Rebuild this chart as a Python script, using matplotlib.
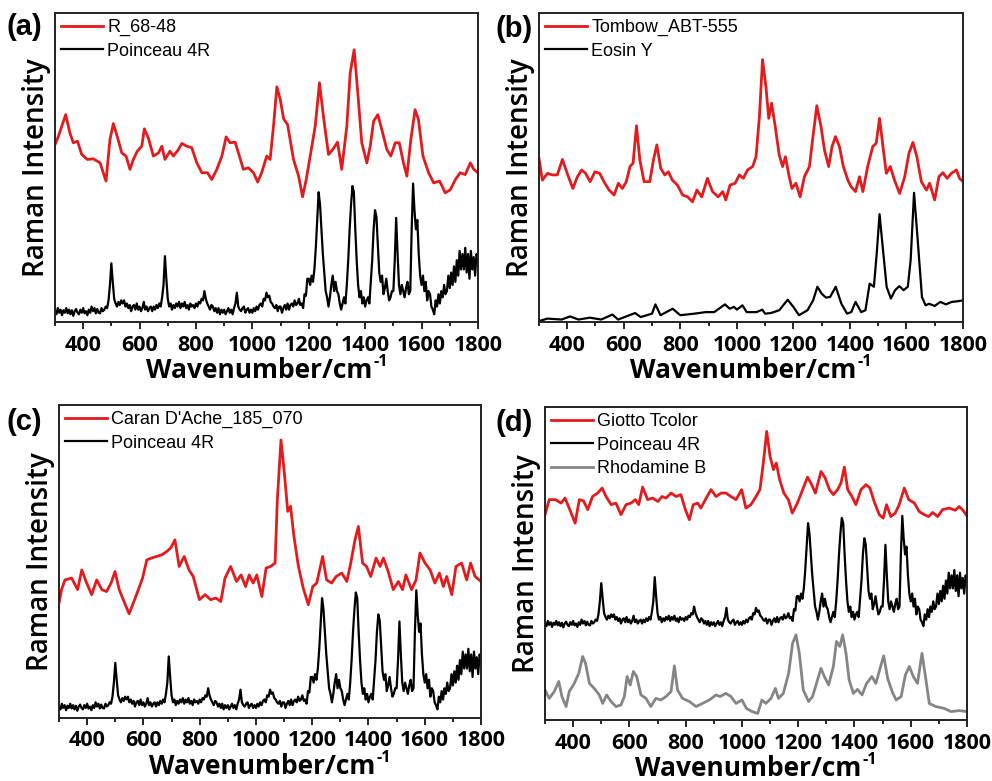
import matplotlib
matplotlib.use("Agg")
import matplotlib.pyplot as plt
from matplotlib.ticker import MultipleLocator

# ---------------------------------------------------------------
# Spectra (arbitrary intensity, 0..1 of panel)
# ---------------------------------------------------------------
# Poinceau 4R reference (shared by panels a, c, d), sampled every 5 cm-1
poinceau_wn = list(range(300, 1801, 5))
poinceau_int = [
    .035, .025, .045, .03, .04, .022, .038, .03, .045, .028,    # 300
    .04, .025, .038, .02, .035, .042, .03, .025, .04, .03,      # 350
    .045, .028, .035, .022, .04, .03, .05, .035, .045, .028,    # 400
    .042, .03, .028, .045, .035, .04, .05, .045, .07, .12,      # 450
    .19, .13, .075, .06, .05, .065, .055, .07, .06, .07,        # 500
    .05, .06, .045, .055, .035, .05, .055, .04, .06, .04,       # 550
    .05, .035, .045, .065, .04, .05, .035, .045, .05, .035,     # 600
    .05, .04, .055, .045, .06, .05, .08, .12, .213, .14,        # 650
    .075, .05, .06, .04, .055, .045, .06, .05, .065, .045,      # 700
    .06, .05, .065, .045, .055, .04, .06, .05, .055, .045,      # 750
    .06, .05, .065, .06, .075, .07, .10, .075, .06, .05,        # 800
    .04, .055, .05, .035, .045, .03, .045, .025, .04, .03,      # 850
    .04, .025, .035, .045, .03, .04, .025, .045, .06, .095,     # 900
    .05, .04, .035, .045, .05, .03, .04, .045, .03, .04,        # 950
    .03, .045, .035, .05, .04, .055, .06, .05, .075, .07,       # 1000
    .095, .08, .085, .065, .06, .05, .045, .055, .035, .05,     # 1050
    .05, .03, .045, .055, .04, .06, .04, .055, .06, .05,        # 1100
    .07, .055, .06, .075, .055, .06, .045, .09, .085, .14,      # 1150
    .14, .12, .15, .13, .17, .24, .33, .42, .38, .30,           # 1200
    .22, .16, .10, .08, .05, .08, .12, .15, .10, .13,           # 1250
    .10, .09, .06, .04, .06, .08, .06, .12, .20, .30,           # 1300
    .38, .44, .42, .30, .20, .12, .08, .10, .06, .08,           # 1350
    .05, .07, .08, .06, .13, .20, .30, .362, .34, .25,          # 1400
    .16, .13, .15, .09, .11, .14, .10, .07, .08, .10,           # 1450
    .10, .20, .337, .22, .12, .09, .12, .10, .08, .11,          # 1500
    .13, .09, .10, .30, .448, .36, .30, .33, .22, .15,          # 1550
    .12, .15, .10, .13, .07, .10, .09, .05, .04, .025,          # 1600
    .07, .05, .09, .06, .10, .08, .12, .09, .10, .15,           # 1650
    .11, .16, .12, .18, .13, .20, .15, .23, .17, .22,           # 1700
    .17, .24, .16, .22, .14, .23, .17, .21, .15, .22,           # 1750
    .20,                                                        # 1800
]

# (a) R_68-48
r6848_wn = [
    300, 312, 338, 353, 365, 380, 395, 415, 436, 460,
    481, 495, 507, 521, 537, 552, 566, 578, 592, 608,
    617, 631, 649, 667, 679, 690, 708, 720, 738, 750,
    767, 785, 803, 821, 841, 856, 874, 892, 907, 921,
    939, 954, 968, 986, 1004, 1019, 1033, 1051, 1063, 1075,
    1087, 1099, 1111, 1125, 1134, 1146, 1164, 1178, 1191, 1207,
    1223, 1238, 1252, 1270, 1285, 1302, 1317, 1335, 1347, 1361,
    1374, 1388, 1406, 1418, 1430, 1445, 1459, 1477, 1491, 1507,
    1521, 1536, 1548, 1562, 1577, 1589, 1605, 1625, 1643, 1664,
    1684, 1702, 1720, 1737, 1755, 1773, 1785, 1800,
]
r6848_int = [
    .574, .60, .671, .612, .58, .585, .542, .526, .528, .515,
    .456, .59, .642, .60, .547, .537, .494, .526, .553, .569,
    .625, .596, .537, .547, .569, .526, .553, .537, .558, .578,
    .569, .564, .515, .483, .483, .461, .494, .537, .599, .58,
    .582, .537, .494, .499, .483, .453, .483, .537, .526, .634,
    .761, .72, .657, .639, .59, .526, .472, .405, .461, .547,
    .634, .774, .666, .542, .558, .582, .494, .634, .806, .881,
    .741, .58, .515, .569, .65, .671, .623, .558, .537, .58,
    .58, .515, .472, .59, .687, .655, .537, .483, .45, .456,
    .418, .428, .461, .483, .477, .515, .494, .483,
]

# (b) Tombow_ABT-555
tombow_wn = [
    300, 312, 330, 347, 365, 383, 400, 420, 436, 451,
    465, 481, 498, 515, 530, 548, 566, 581, 595, 609,
    622, 633, 645, 657, 672, 692, 705, 717, 731, 745,
    758, 772, 790, 808, 826, 843, 859, 876, 896, 914,
    934, 950, 961, 976, 994, 1009, 1023, 1038, 1056, 1068,
    1080, 1091, 1103, 1113, 1123, 1136, 1150, 1162, 1172, 1183,
    1195, 1209, 1224, 1239, 1257, 1268, 1283, 1298, 1310, 1325,
    1337, 1349, 1363, 1377, 1393, 1404, 1420, 1434, 1446, 1463,
    1481, 1493, 1505, 1517, 1529, 1543, 1558, 1576, 1594, 1609,
    1623, 1637, 1653, 1671, 1682, 1700, 1715, 1729, 1744, 1759,
    1777, 1788, 1800,
]
tombow_int = [
    .53, .459, .481, .476, .476, .526, .481, .432, .47, .492,
    .481, .454, .486, .481, .454, .427, .411, .449, .432, .454,
    .503, .514, .635, .524, .454, .454, .524, .573, .497, .476,
    .486, .459, .443, .411, .405, .389, .427, .405, .465, .422,
    .405, .422, .395, .443, .449, .476, .465, .492, .503, .535,
    .665, .849, .762, .659, .708, .632, .541, .503, .535, .481,
    .432, .449, .405, .47, .503, .589, .70, .632, .557, .503,
    .568, .60, .568, .503, .459, .438, .422, .47, .422, .503,
    .568, .578, .659, .568, .481, .503, .459, .416, .47, .546,
    .581, .535, .454, .427, .449, .395, .47, .483, .465, .481,
    .492, .465, .454,
]

# (b) Eosin Y
eosin_wn = [
    300, 330, 380, 410, 440, 480, 520, 560, 580, 620,
    640, 660, 700, 712, 730, 773, 800, 850, 890, 920,
    958, 975, 990, 1000, 1020, 1035, 1070, 1090, 1100, 1120,
    1150, 1180, 1200, 1220, 1250, 1270, 1285, 1300, 1315, 1330,
    1350, 1370, 1390, 1405, 1420, 1440, 1455, 1470, 1485, 1495,
    1505, 1515, 1530, 1545, 1560, 1575, 1590, 1605, 1615, 1627,
    1640, 1655, 1668, 1680, 1700, 1720, 1740, 1760, 1780, 1800,
]
eosin_int = [
    .003, .011, .008, .018, .008, .014, .008, .024, .008, .022,
    .029, .016, .027, .057, .022, .043, .022, .027, .032, .032,
    .057, .043, .049, .040, .054, .032, .032, .040, .027, .029,
    .038, .072, .049, .022, .038, .070, .114, .092, .079, .081,
    .114, .059, .027, .032, .065, .032, .038, .124, .114, .222,
    .349, .254, .114, .076, .103, .116, .103, .114, .200, .418,
    .265, .081, .054, .059, .052, .065, .057, .065, .067, .070,
]

# (c) Caran D'Ache_185_070
caran_wn = [
    300, 309, 321, 345, 366, 381, 396, 416, 434, 452,
    469, 485, 499, 514, 531, 549, 564, 582, 597, 612,
    629, 647, 665, 683, 697, 712, 727, 745, 762, 777,
    799, 819, 839, 858, 875, 890, 910, 931, 947, 963,
    976, 990, 1003, 1021, 1036, 1052, 1068, 1076, 1089, 1101,
    1113, 1123, 1135, 1151, 1168, 1186, 1202, 1216, 1237, 1251,
    1269, 1285, 1305, 1323, 1337, 1352, 1364, 1379, 1393, 1408,
    1427, 1441, 1453, 1470, 1488, 1506, 1521, 1533, 1553, 1569,
    1583, 1601, 1619, 1636, 1652, 1666, 1678, 1696, 1711, 1731,
    1749, 1763, 1779, 1800,
]
caran_int = [
    .367, .41, .441, .447, .41, .473, .436, .394, .441, .41,
    .404, .431, .468, .41, .372, .333, .367, .41, .447, .505,
    .511, .516, .521, .532, .543, .569, .484, .516, .473, .452,
    .378, .394, .378, .383, .372, .447, .484, .436, .457, .42,
    .457, .431, .457, .388, .479, .484, .495, .697, .888, .782,
    .66, .676, .58, .484, .415, .362, .42, .431, .516, .441,
    .431, .452, .463, .436, .495, .569, .612, .495, .484, .452,
    .511, .484, .511, .468, .41, .436, .41, .457, .41, .441,
    .527, .495, .473, .431, .463, .42, .452, .394, .484, .495,
    .441, .495, .452, .436,
]

# (d) Giotto Tcolor
giotto_wn = [
    300, 315, 337, 357, 371, 386, 407, 422, 437, 452,
    469, 487, 503, 517, 535, 552, 570, 588, 606, 621,
    633, 647, 665, 683, 701, 716, 730, 748, 766, 783,
    799, 813, 827, 843, 854, 870, 890, 908, 926, 943,
    961, 979, 999, 1014, 1032, 1050, 1064, 1076, 1088, 1100,
    1112, 1122, 1134, 1149, 1165, 1179, 1197, 1216, 1233, 1245,
    1261, 1281, 1296, 1311, 1325, 1340, 1352, 1364, 1376, 1391,
    1405, 1423, 1441, 1455, 1470, 1488, 1502, 1514, 1529, 1545,
    1559, 1577, 1593, 1613, 1630, 1648, 1664, 1678, 1696, 1713,
    1737, 1758, 1772, 1784, 1800,
]
giotto_int = [
    .656, .704, .704, .693, .709, .677, .629, .704, .70, .672,
    .714, .725, .741, .714, .688, .693, .656, .688, .693, .704,
    .688, .744, .704, .709, .698, .714, .709, .725, .714, .72,
    .672, .64, .688, .693, .677, .704, .736, .714, .725, .725,
    .714, .704, .736, .677, .688, .714, .736, .821, .922, .842,
    .80, .821, .768, .725, .704, .661, .693, .736, .776, .757,
    .725, .794, .773, .736, .72, .736, .757, .808, .736, .714,
    .688, .736, .752, .741, .698, .656, .645, .688, .65, .661,
    .688, .741, .704, .693, .666, .656, .65, .663, .65, .672,
    .677, .67, .682, .672, .652,
]

# (d) Rhodamine B
rhodamine_wn = [
    300, 315, 333, 349, 360, 375, 386, 404, 420, 434,
    444, 458, 475, 493, 505, 519, 535, 552, 570, 582,
    592, 603, 614, 626, 641, 659, 676, 694, 712, 730,
    748, 760, 771, 789, 813, 837, 860, 884, 908, 922,
    943, 961, 979, 1000, 1016, 1036, 1056, 1071, 1085, 1103,
    1119, 1130, 1147, 1166, 1180, 1192, 1204, 1218, 1237, 1251,
    1265, 1281, 1293, 1308, 1325, 1336, 1348, 1358, 1370, 1381,
    1396, 1411, 1427, 1443, 1462, 1476, 1491, 1504, 1518, 1534,
    1548, 1566, 1581, 1595, 1609, 1624, 1640, 1654, 1666, 1689,
    1719, 1743, 1772, 1800,
]
rhodamine_int = [
    .096, .069, .091, .123, .075, .043, .091, .117, .149, .203,
    .181, .117, .101, .08, .053, .08, .059, .043, .048, .075,
    .139, .112, .155, .139, .08, .069, .043, .069, .064, .075,
    .091, .173, .096, .069, .059, .043, .053, .064, .08, .075,
    .085, .075, .053, .064, .037, .027, .021, .064, .053, .069,
    .101, .069, .085, .149, .245, .272, .213, .096, .059, .075,
    .117, .165, .139, .112, .171, .251, .235, .272, .213, .128,
    .085, .098, .08, .117, .139, .117, .165, .205, .133, .091,
    .064, .075, .144, .171, .139, .117, .213, .128, .053, .043,
    .037, .027, .03, .027,
]

RED = "#e41a1c"
GREY = "#858585"

plt.rcParams["font.family"] = ["Open Sans", "DejaVu Sans"]

fig = plt.figure(figsize=(9.92, 7.81), dpi=100)

rects = {
    "a": [0.0554, 0.5877, 0.4264, 0.3957],
    "b": [0.5433, 0.5877, 0.4274, 0.3957],
    "c": [0.0595, 0.0807, 0.4254, 0.4008],
    "d": [0.5494, 0.0781, 0.4254, 0.4008],
}
label_pos = {"a": (0.007, 0.965), "b": (0.499, 0.963), "c": (0.007, 0.460), "d": (0.499, 0.458)}


def style_axes(ax):
    ax.set_xlim(300, 1800)
    ax.set_ylim(0, 1)
    ax.xaxis.set_major_locator(MultipleLocator(200))
    ax.xaxis.set_minor_locator(MultipleLocator(100))
    ax.set_yticks([])
    ax.tick_params(axis="x", which="both", direction="out", top=False,
                   labelsize=15.5, width=1.2, pad=4)
    ax.tick_params(axis="x", which="major", length=5)
    ax.tick_params(axis="x", which="minor", length=3)
    for lbl in ax.get_xticklabels():
        lbl.set_fontweight("bold")
    for sp in ax.spines.values():
        sp.set_linewidth(1.4)
        sp.set_color("#222222")
    ax.set_xlabel("Wavenumber/cm", fontsize=19, fontweight="bold", labelpad=1)
    ax.xaxis.label.set_x(0.482)
    ax.set_ylabel("Raman Intensity", fontsize=20, fontweight="semibold", labelpad=3)


def add_legend(ax):
    ax.legend(loc="upper left", frameon=False, handlelength=2.3, handletextpad=0.25,
              labelspacing=0.35, borderpad=0.3, borderaxespad=0.05,
              prop={"family": "Liberation Sans", "size": 13})


axes = []

# (a)
ax = fig.add_axes(rects["a"])
ax.plot(r6848_wn, r6848_int, color=RED, lw=2.0, label="R_68-48")
ax.plot(poinceau_wn, poinceau_int, color="black", lw=1.6, label="Poinceau 4R")
style_axes(ax)
add_legend(ax)
axes.append(ax)

# (b)
ax = fig.add_axes(rects["b"])
ax.plot(tombow_wn, tombow_int, color=RED, lw=2.0, label="Tombow_ABT-555")
ax.plot(eosin_wn, eosin_int, color="black", lw=1.6, label="Eosin Y")
style_axes(ax)
add_legend(ax)
axes.append(ax)

# (c) same Poinceau trace, slightly smaller
ax = fig.add_axes(rects["c"])
ax.plot(caran_wn, caran_int, color=RED, lw=2.0, label="Caran D'Ache_185_070")
ax.plot(poinceau_wn, [0.005 + 0.9 * v for v in poinceau_int], color="black", lw=1.6,
        label="Poinceau 4R")
style_axes(ax)
add_legend(ax)
axes.append(ax)

# (d) Poinceau stacked above Rhodamine B
ax = fig.add_axes(rects["d"])
ax.plot(giotto_wn, giotto_int, color=RED, lw=2.0, label="Giotto Tcolor")
ax.plot(poinceau_wn, [0.279 + 0.833 * v for v in poinceau_int], color="black", lw=1.6,
        label="Poinceau 4R")
ax.plot(rhodamine_wn, rhodamine_int, color=GREY, lw=2.0, label="Rhodamine B")
style_axes(ax)
add_legend(ax)
axes.append(ax)

for key, (x, y) in label_pos.items():
    fig.text(x, y, f"({key})", fontsize=21, fontweight="bold", family="Liberation Sans",
             ha="left", va="center")

# small "-1" superscript right after each x label
fig.canvas.draw()
W, H = fig.canvas.get_width_height()
for ax in axes:
    bb = ax.xaxis.label.get_window_extent()
    fig.text((bb.x1 + 1) / W, (bb.y1 + 3) / H, "-1", fontsize=11.5, fontweight="bold",
             ha="left", va="top")

fig.savefig("out.png", dpi=100)
